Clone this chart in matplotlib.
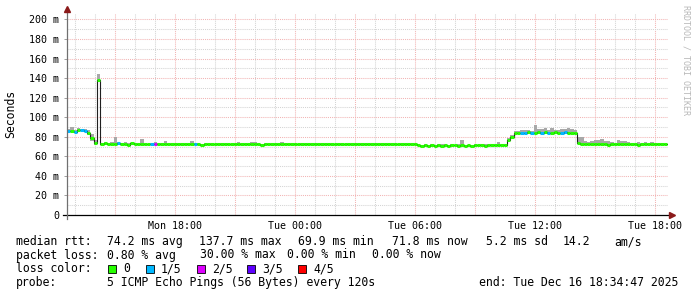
import numpy as np
import matplotlib.pyplot as plt
from matplotlib.collections import LineCollection
from matplotlib.patches import Rectangle

# 10 minute samples, first one at Mon 12:36 (hours counted from Mon 00:00)
start_hour = 12.6
step_hours = 1 / 6

median_ms = [
    85.6, 86.0, 85.2, 86.6, 87.0, 85.8, 83.5, 79.0, 73.5, 137.7,
    72.5, 73.4, 72.8, 73.1, 72.2, 73.6, 72.4, 72.9, 72.1, 73.2,
    72.6, 72.3, 73.0, 72.5, 72.2, 72.9, 73.1, 72.4, 72.7, 72.3,
    72.8, 72.5, 72.2, 72.9, 72.6, 72.3, 73.0, 72.4, 72.8, 72.5,
    72.1, 72.7, 72.4, 72.9, 72.3, 72.6, 72.2, 72.8, 72.5, 72.3,
    72.7, 72.4, 72.2, 72.9, 72.5, 72.3, 72.8, 72.6, 72.1, 72.7,
    72.4, 72.9, 72.3, 72.6, 72.2, 72.8, 72.5, 72.4, 72.7, 72.3,
    72.6, 72.2, 72.9, 72.4, 72.7, 72.5, 72.3, 72.8, 72.4, 72.6,
    72.3, 72.7, 72.5, 72.2, 72.8, 72.4, 72.6, 72.3, 72.7, 72.5,
    72.4, 72.8, 72.3, 72.6, 72.5, 72.2, 72.7, 72.4, 72.6, 72.3,
    72.5, 72.7, 72.3, 72.6, 72.4, 71.2, 70.9, 71.4, 71.0, 71.3,
    70.8, 71.2, 71.0, 71.5, 70.9, 71.3, 71.1, 70.8, 71.4, 71.0,
    71.2, 70.9, 71.3, 71.1, 71.6, 71.0, 71.2, 71.4, 71.1, 71.3,
    71.5, 72.0, 76.5, 80.0, 84.0, 83.6, 84.3, 83.8, 84.5, 84.1,
    83.7, 84.4, 84.0, 84.6, 83.9, 84.2, 84.7, 84.1, 83.8, 84.5,
    84.3, 84.0, 83.6, 74.0, 72.6, 72.2, 72.8, 72.4, 72.7, 72.3,
    72.9, 72.5, 72.1, 72.6, 72.4, 72.8, 72.2, 72.5, 72.7, 72.3,
    72.6, 72.1, 72.4, 72.7, 72.2, 72.5, 72.3, 72.6, 72.4, 72.2,
]

# how far the smoke reaches above / below the median (ms)
smoke_hi_ms = [
    2.0, 4.0, 1.5, 2.0, 1.2, 2.5, 3.0, 4.0, 3.0, 7.0,
    1.0, 1.2, 1.0, 1.5, 7.5, 1.4, 1.0, 1.8, 1.2, 0.8,
    1.0, 1.2, 4.5, 1.0, 0.8, 1.2, 1.5, 1.0, 0.8, 3.5,
    1.0, 0.8, 1.2, 1.0, 0.8, 1.5, 1.0, 3.0, 1.0, 0.8,
    1.0, 0.8, 1.2, 1.0, 0.8, 1.0, 1.2, 0.8, 1.0, 0.8,
    1.2, 2.5, 1.0, 0.8, 1.0, 2.5, 2.0, 1.5, 0.8, 1.0,
    0.8, 1.0, 1.2, 0.8, 2.0, 1.0, 0.8, 1.2, 1.0, 0.8,
    1.0, 1.2, 0.8, 1.0, 0.8, 1.2, 1.0, 0.8, 1.0, 1.2,
    0.8, 1.0, 1.2, 0.8, 1.0, 0.8, 1.2, 1.0, 0.8, 1.0,
    1.2, 0.8, 1.0, 0.8, 1.2, 1.0, 0.8, 1.0, 1.2, 0.8,
    1.0, 0.8, 1.2, 1.0, 0.8, 1.0, 1.2, 0.8, 1.0, 1.2,
    0.8, 1.0, 1.5, 1.0, 0.8, 1.2, 1.0, 1.5, 5.0, 1.0,
    0.8, 1.2, 1.0, 0.8, 1.0, 1.2, 1.0, 0.8, 1.5, 3.0,
    1.0, 1.0, 2.5, 2.0, 1.5, 2.0, 2.5, 3.0, 2.0, 1.5,
    8.0, 4.0, 3.5, 4.0, 3.0, 4.5, 2.5, 3.0, 4.5, 3.0,
    5.0, 4.0, 3.0, 6.0, 7.0, 3.0, 2.0, 3.5, 4.5, 4.0,
    4.5, 3.0, 4.0, 2.0, 1.5, 3.5, 3.0, 3.5, 2.0, 1.5,
    1.2, 2.5, 1.0, 1.5, 1.0, 2.0, 1.2, 1.0, 0.8, 1.0,
]
smoke_lo_ms = [
    1.0, 0.8, 1.2, 0.8, 1.0, 1.0, 2.0, 3.0, 1.5, 1.5,
    0.8, 0.6, 0.8, 0.6, 0.8, 0.6, 0.8, 0.6, 0.8, 0.6,
    0.6, 0.8, 0.6, 0.8, 0.6, 0.8, 0.6, 0.8, 0.6, 0.8,
    0.8, 0.6, 0.8, 0.6, 0.8, 0.6, 0.8, 0.6, 0.8, 0.6,
    0.6, 0.8, 0.6, 0.8, 0.6, 0.8, 0.6, 0.8, 0.6, 0.8,
    0.8, 0.6, 0.8, 0.6, 0.8, 0.6, 0.8, 0.6, 0.8, 0.6,
    0.6, 0.8, 0.6, 0.8, 0.6, 0.8, 0.6, 0.8, 0.6, 0.8,
    0.8, 0.6, 0.8, 0.6, 0.8, 0.6, 0.8, 0.6, 0.8, 0.6,
    0.6, 0.8, 0.6, 0.8, 0.6, 0.8, 0.6, 0.8, 0.6, 0.8,
    0.8, 0.6, 0.8, 0.6, 0.8, 0.6, 0.8, 0.6, 0.8, 0.6,
    0.6, 0.8, 0.6, 0.8, 0.6, 0.8, 0.6, 0.8, 0.6, 0.8,
    0.8, 0.6, 0.8, 0.6, 0.8, 0.6, 0.8, 0.6, 0.8, 0.6,
    0.6, 0.8, 0.6, 0.8, 0.6, 0.8, 0.6, 0.8, 0.6, 0.8,
    0.8, 0.6, 2.0, 2.0, 1.0, 1.0, 1.2, 1.0, 1.2, 1.0,
    1.0, 1.2, 1.0, 1.2, 1.0, 1.2, 1.0, 1.2, 1.0, 1.2,
    1.0, 1.2, 1.0, 1.5, 0.8, 0.6, 0.8, 0.6, 0.8, 0.6,
    0.6, 0.8, 0.6, 0.8, 0.6, 0.8, 0.6, 0.8, 0.6, 0.8,
    0.8, 0.6, 0.8, 0.6, 0.8, 0.6, 0.8, 0.6, 0.8, 0.6,
]

# lost pings (out of 5) per sample
loss = [0] * 180
for i in [0, 2, 4, 5, 15, 25, 38, 136, 137, 139, 142, 144, 148, 149]:
    loss[i] = 1
loss[26] = 2

loss_labels = ["0", "1/5", "2/5", "3/5", "4/5"]
loss_colors = ["#26ff00", "#00b8ff", "#dd00ff", "#5e00ff", "#ff0000"]

y_ticks = [0, 20, 40, 60, 80, 100, 120, 140, 160, 180, 200]
x_tick_hours = [18, 24, 30, 36, 42]
x_tick_labels = ["Mon 18:00", "Tue 00:00", "Tue 06:00", "Tue 12:00", "Tue 18:00"]

rtt_avg, rtt_max, rtt_min, rtt_now, rtt_sd, am_s = 74.2, 137.7, 69.9, 71.8, 5.2, 14.2
loss_avg, loss_max, loss_min, loss_now = 0.80, 30.00, 0.00, 0.00
probe_text = "5 ICMP Echo Pings (56 Bytes) every 120s"
end_text = "end: Tue Dec 16 18:34:47 2025"

MONO = "DejaVu Sans Mono"
W, H = 697, 297
fig = plt.figure(figsize=(W / 100, H / 100), dpi=100)
ax = fig.add_axes([67 / W, 1 - 215 / H, 601 / W, 202 / H])

n = len(median_ms)
t = start_hour + step_hours * np.arange(n + 1)
med = np.array(median_ms)
hi = med + np.array(smoke_hi_ms)
lo = med - np.array(smoke_lo_ms)

# smoke
ax.fill_between(t, np.append(lo, lo[-1]), np.append(hi, hi[-1]), step="post",
                color="#a8a8a8", lw=0, zorder=2)
# thin dark median line, then loss coloured segments on top
ax.step(t, np.append(med, med[-1]), where="post", color="#202020", lw=0.8, zorder=3)
segs = [[(t[i], med[i]), (t[i + 1], med[i])] for i in range(n)]
cols = [loss_colors[l] for l in loss]
ax.add_collection(LineCollection(segs, colors=cols, linewidths=2.2, zorder=4,
                                 capstyle="butt"))

ax.set_xlim(12.6, 42.65)
ax.set_ylim(0, 206.6)

# grid
for h in range(13, 43):
    c = "#f2b4b4" if h % 3 == 0 else "#d4d4d4"
    ax.axvline(h, color=c, lw=0.75, ls=(0, (1, 1)), zorder=1)
for v in range(10, 210, 10):
    c = "#f2b4b4" if v % 20 == 0 else "#d4d4d4"
    ax.axhline(v, color=c, lw=0.75, ls=(0, (1, 1)), zorder=1)

for s in ax.spines.values():
    s.set_visible(False)

ax.set_yticks(y_ticks)
ax.set_yticklabels(["0" if v == 0 else f"{v} m" for v in y_ticks],
                   family=MONO, fontsize=7.2)
ax.set_xticks(x_tick_hours)
ax.set_xticklabels(x_tick_labels, family=MONO, fontsize=7.2)
ax.tick_params(axis="y", length=2.5, width=0.7, color="#a0a0a0", pad=3)
ax.tick_params(axis="x", length=0, pad=4)

# axis lines with arrows
ax.plot([-0.0067, 1.004], [0, 0], transform=ax.transAxes, color="#000000",
        lw=0.9, clip_on=False, zorder=5)
ax.plot([0, 0], [-0.02, 1.016], transform=ax.transAxes, color="#707070",
        lw=0.9, clip_on=False, zorder=5)
ax.plot([1.007], [0], marker=">", markersize=4, color="#8b1a1a",
        transform=ax.transAxes, clip_on=False, zorder=6)
ax.plot([0], [1.022], marker="^", markersize=4, color="#8b1a1a",
        transform=ax.transAxes, clip_on=False, zorder=6)

fig.text(11 / W, 1 - 114 / H, "Seconds", rotation=90, ha="center", va="center",
         family=MONO, fontsize=8.3)
fig.text(686 / W, 1 - 5 / H, "RRDTOOL / TOBI OETIKER", rotation=270, ha="center",
         va="top", family=MONO, fontsize=6, color="#b8b8b8")


def put(x, y, s, **kw):
    fig.text(x / W, 1 - y / H, s, family=MONO, fontsize=8.3, va="center", **kw)


y1, y2, y3, y4 = 241.7, 255.0, 269.0, 282.7
put(16, y1, "median rtt:")
put(107, y1, f"{rtt_avg:.1f} ms avg")
put(199, y1, f"{rtt_max:.1f} ms max")
put(298, y1, f"{rtt_min:.1f} ms min")
put(392, y1, f"{rtt_now:.1f} ms now")
put(486, y1, f"{rtt_sd:.1f} ms sd")
put(563, y1, f"{am_s:.1f}")
put(614, y1, "am/s")

put(16, y2, "packet loss:")
put(107, y2, f"{loss_avg:.2f} % avg")
put(200, y2, f"{loss_max:.2f} % max")
put(287, y2, f"{loss_min:.2f} % min")
put(372, y2, f"{loss_now:.2f} % now")

put(16, y3, "loss color:")
box_x = [108, 146, 197, 247, 298]
for bx, lab, col in zip(box_x, loss_labels, loss_colors):
    fig.patches.append(Rectangle((bx / W, 1 - 273 / H), 8 / W, 8 / H,
                                 transform=fig.transFigure, facecolor=col,
                                 edgecolor="#000000", lw=0.6))
    put(bx + 15, y3, lab)

put(16, y4, "probe:")
put(107, y4, probe_text)
put(479, y4, end_text)

fig.savefig("out.png", dpi=100)
